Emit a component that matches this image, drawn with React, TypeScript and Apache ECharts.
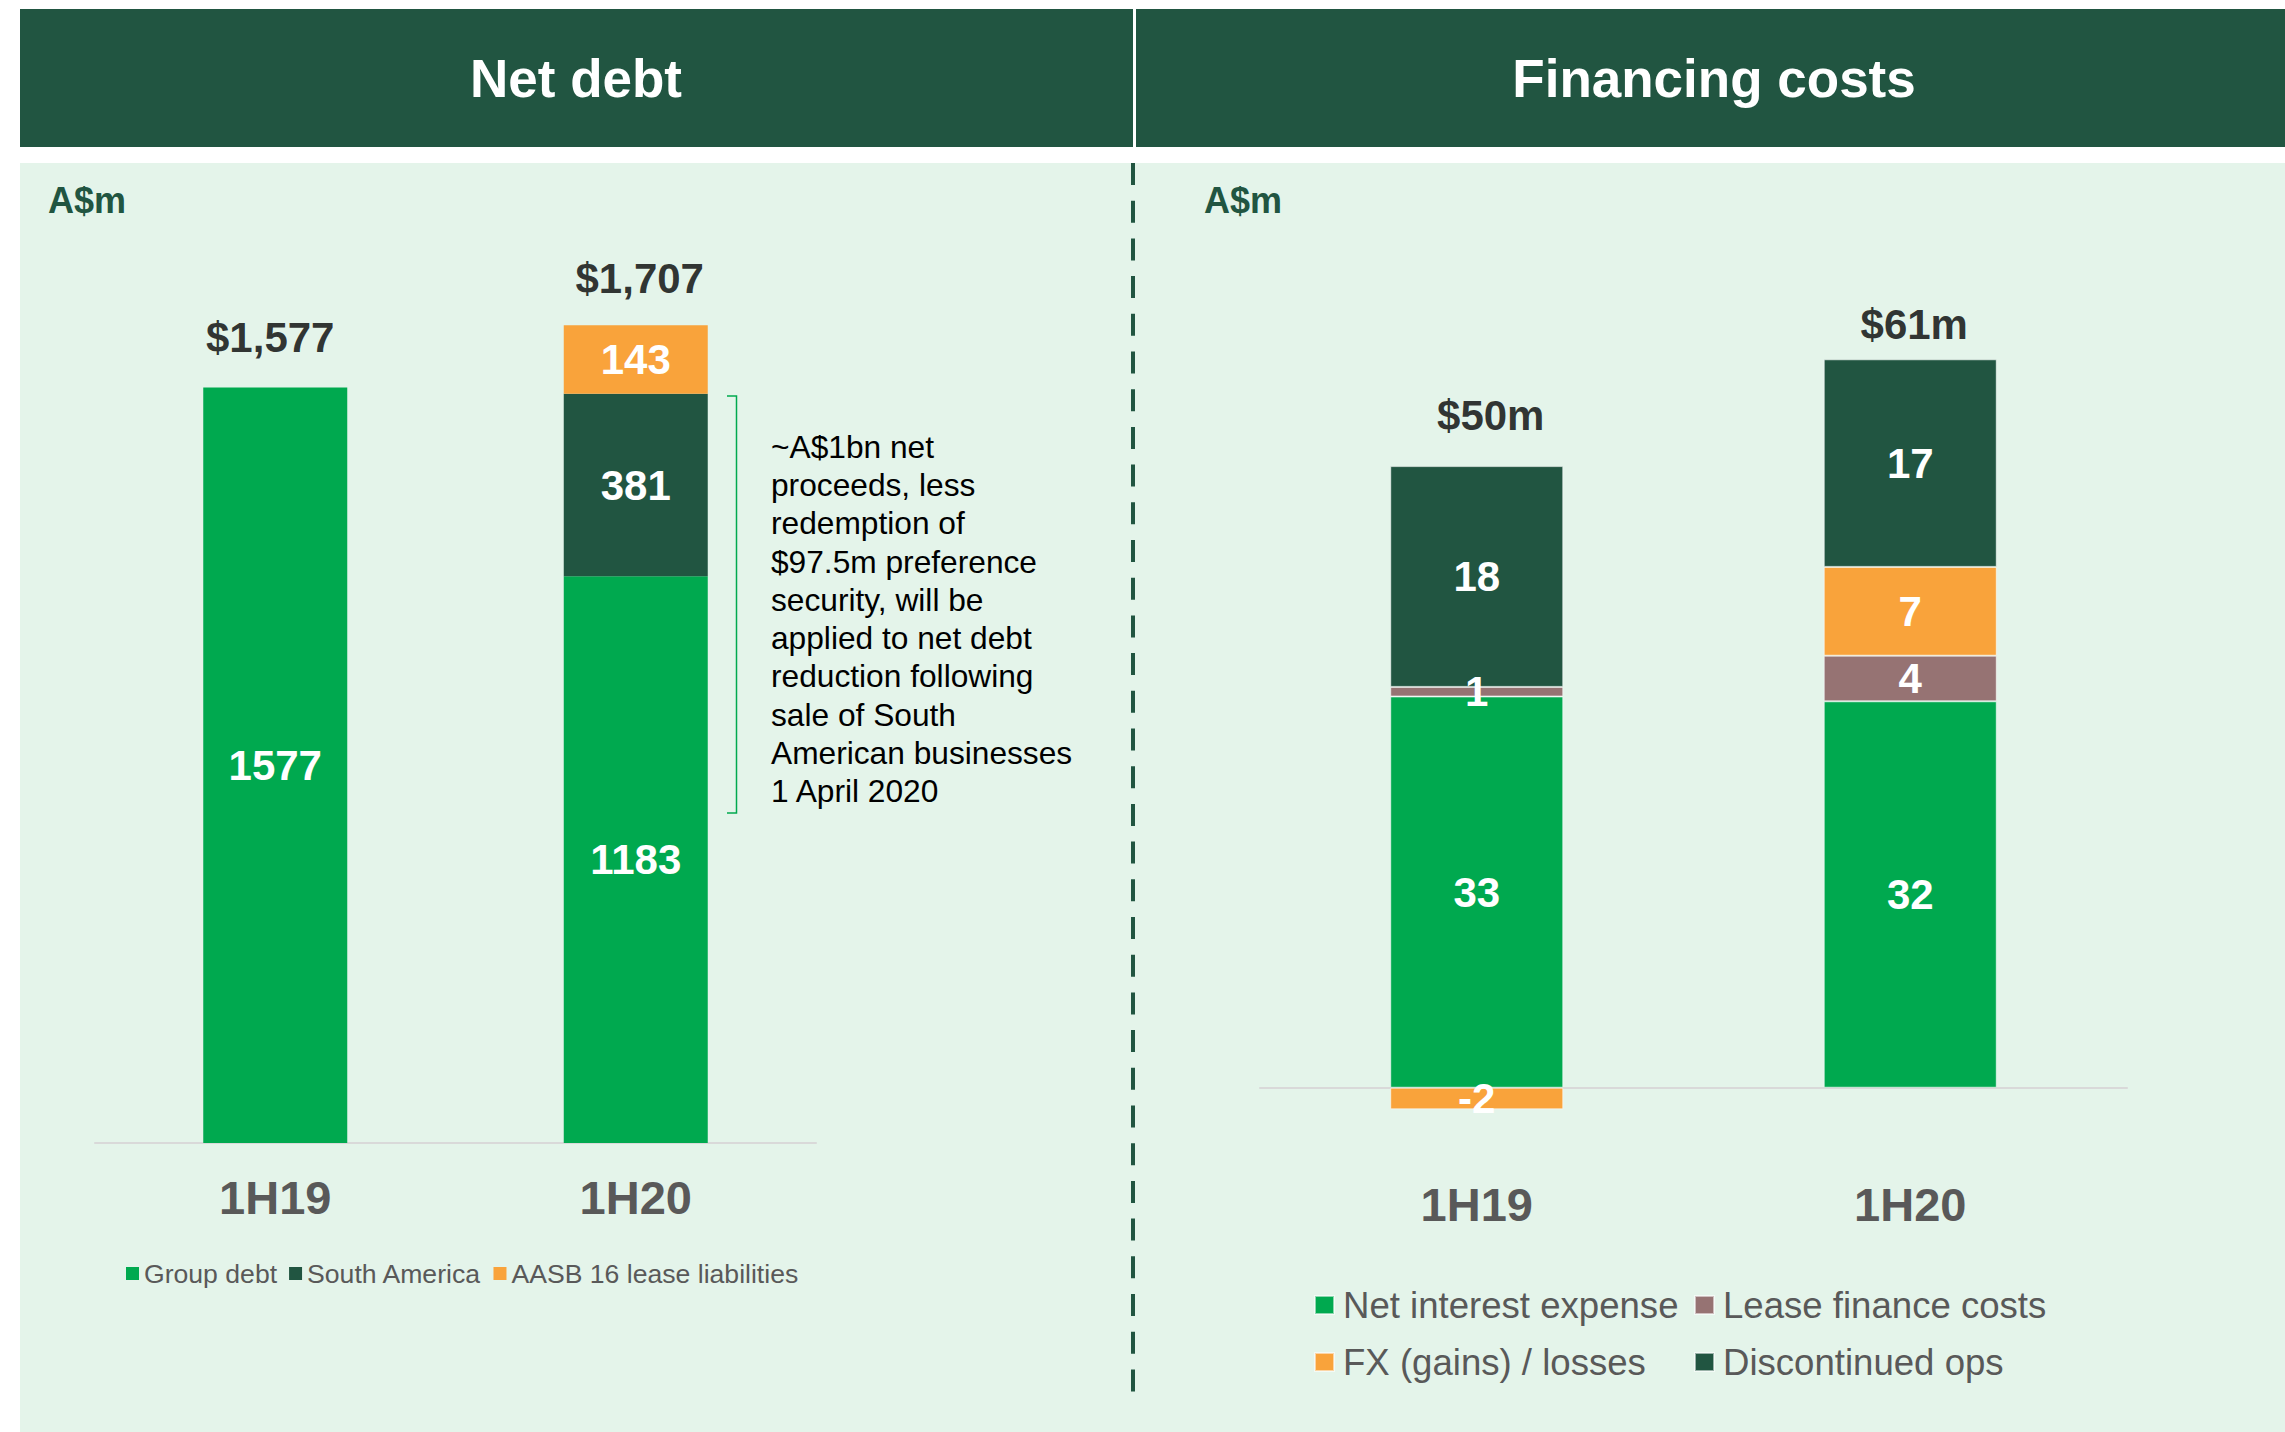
import React, { useEffect, useRef } from "react";
import * as echarts from "echarts";

// ---------- data ----------
const categories = ["1H19", "1H20"];

// Net debt (A$m)
const groupDebt = [1577, 1183];
const southAmerica: (number | null)[] = [null, 381];
const aasb16Lease: (number | null)[] = [null, 143];

// Financing costs (A$m)
const netInterest = [32.6, 32.2];
const leaseFinance = [0.8, 3.8];
const fxGainsLosses = [-1.8, 7.4];
const discontinuedOps = [18.4, 17.3];

const netDebtNames = ["Group debt", "South America", "AASB 16 lease liabilities"];
const financingNames = [
  "Net interest expense",
  "Lease finance costs",
  "FX (gains) / losses",
  "Discontinued ops",
];

const annotationLines = [
  "~A$1bn net",
  "proceeds, less",
  "redemption of",
  "$97.5m preference",
  "security, will be",
  "applied to net debt",
  "reduction following",
  "sale of South",
  "American businesses",
  "1 April 2020",
];

// ---------- styles ----------
const FONT = "'Liberation Sans', Arial, sans-serif";
const GREEN = "#00A94F";
const DARK = "#215541";
const ORANGE = "#F9A33B";
const MAUVE = "#967373";
const AXIS = "#D9D9D9";
const GREY = "#595959";
const PANEL = "#E4F4EA";

const fmtThousands = (v: number) =>
  "$" + Math.round(v).toLocaleString("en-US");

export default function App() {
  const ref = useRef<HTMLDivElement>(null);

  useEffect(() => {
    if (!ref.current) return;
    const chart = echarts.init(ref.current, undefined, { renderer: "svg" });

    const nd = [groupDebt, southAmerica, aasb16Lease];
    const netDebtTotals = categories.map((_, i) =>
      nd.reduce((s, arr) => s + ((arr[i] as number) || 0), 0)
    );
    const fc = [netInterest, leaseFinance, fxGainsLosses, discontinuedOps];
    const finTotals = categories.map((_, i) =>
      fc.reduce((s, arr) => s + arr[i], 0)
    );
    const finTops = categories.map((_, i) =>
      fc.reduce((s, arr) => s + (arr[i] > 0 ? arr[i] : 0), 0)
    );

    const segLabel = {
      show: true,
      position: "inside",
      color: "#fff",
      fontSize: 42,
      fontWeight: "bold",
      fontFamily: FONT,
      formatter: (p: any) =>
        p.value == null || p.value === "-" ? "" : String(Math.round(p.value)),
    };

    const ndColors = [GREEN, DARK, ORANGE];
    const fcColors = [GREEN, MAUVE, ORANGE, DARK];

    const ndSeries = nd.map((arr, k) => ({
      type: "bar",
      name: netDebtNames[k],
      xAxisIndex: 0,
      yAxisIndex: 0,
      stack: "nd",
      barWidth: 144,
      data: arr,
      itemStyle: { color: ndColors[k] },
      label: segLabel,
    }));

    const fcSeries = fc.map((arr, k) => ({
      type: "bar",
      name: financingNames[k],
      xAxisIndex: 1,
      yAxisIndex: 1,
      stack: "fc",
      barWidth: 173,
      data: arr,
      itemStyle: {
        color: fcColors[k],
        borderColor: "rgba(255,255,255,0.55)",
        borderWidth: 1,
      },
      label: segLabel,
    }));

    const totalLabelBase = {
      show: true,
      position: "top",
      color: "#000",
      fontSize: 42,
      fontWeight: "bold",
      fontFamily: FONT,
    };

    const ndTotalOffsets = [
      { distance: 29, offset: [-5, 0] },
      { distance: 25, offset: [4, 0] },
    ];
    const fcTotalOffsets = [
      { distance: 29, offset: [14, 0] },
      { distance: 13, offset: [4, 0] },
    ];

    const ndTotalSeries = {
      type: "scatter",
      xAxisIndex: 0,
      yAxisIndex: 0,
      symbol: "circle",
      symbolSize: 1,
      itemStyle: { color: "rgba(0,0,0,0)" },
      silent: true,
      data: netDebtTotals.map((v, i) => ({
        value: v,
        label: {
          ...totalLabelBase,
          ...ndTotalOffsets[i],
          formatter: fmtThousands(v),
        },
      })),
    };

    const fcTotalSeries = {
      type: "scatter",
      xAxisIndex: 1,
      yAxisIndex: 1,
      symbol: "circle",
      symbolSize: 1,
      itemStyle: { color: "rgba(0,0,0,0)" },
      silent: true,
      data: finTops.map((v, i) => ({
        value: v,
        label: {
          ...totalLabelBase,
          ...fcTotalOffsets[i],
          formatter: "$" + Math.round(finTotals[i]) + "m",
        },
      })),
    };

    const catAxis = (gridIndex: number, margin: number) => ({
      type: "category",
      gridIndex,
      data: categories,
      axisLine: { show: true, onZero: true, lineStyle: { color: AXIS, width: 2 } },
      axisTick: { show: false },
      axisLabel: {
        margin,
        fontSize: 47,
        fontWeight: "bold",
        color: GREY,
        fontFamily: FONT,
      },
    });

    const legendBase = {
      icon: "rect",
      padding: 0,
      selectedMode: false,
    };

    const option: any = {
      animation: false,
      backgroundColor: "#ffffff",
      textStyle: { fontFamily: FONT },
      grid: [
        { left: 95, top: 185, width: 721, height: 958 },
        { left: 1260, top: 247.7, width: 867, height: 960 },
      ],
      xAxis: [catAxis(0, 31), catAxis(1, -27)],
      yAxis: [
        { type: "value", gridIndex: 0, min: 0, max: 2000, show: false },
        { type: "value", gridIndex: 1, min: -10, max: 70, show: false },
      ],
      legend: [
        {
          ...legendBase,
          data: netDebtNames,
          orient: "horizontal",
          left: 126,
          top: 1260,
          itemWidth: 13,
          itemHeight: 13,
          itemGap: 12,
          textStyle: { fontSize: 26.6, lineHeight: 26, color: GREY, fontFamily: FONT },
        },
        {
          ...legendBase,
          data: [financingNames[0], financingNames[2]],
          orient: "vertical",
          left: 1314,
          top: 1285,
          itemWidth: 19,
          itemHeight: 18,
          itemGap: 17,
          textStyle: {
            fontSize: 36.6,
            lineHeight: 40,
            color: GREY,
            fontFamily: FONT,
            padding: [0, 0, 0, 4],
          },
        },
        {
          ...legendBase,
          data: [financingNames[1], financingNames[3]],
          orient: "vertical",
          left: 1694,
          top: 1285,
          itemWidth: 19,
          itemHeight: 18,
          itemGap: 17,
          textStyle: {
            fontSize: 36.6,
            lineHeight: 40,
            color: GREY,
            fontFamily: FONT,
            padding: [0, 0, 0, 4],
          },
        },
      ],
      graphic: [
        {
          type: "rect",
          z: -10,
          shape: { x: 20, y: 163, width: 2265, height: 1269 },
          style: { fill: PANEL },
        },
        {
          type: "rect",
          z: -10,
          shape: { x: 20, y: 9, width: 1113, height: 138 },
          style: { fill: DARK },
        },
        {
          type: "rect",
          z: -10,
          shape: { x: 1136, y: 9, width: 1149, height: 138 },
          style: { fill: DARK },
        },
        {
          type: "text",
          x: 576,
          y: 78,
          style: {
            text: "Net debt",
            fill: "#fff",
            fontSize: 53,
            fontWeight: "bold",
            fontFamily: FONT,
            align: "center",
            verticalAlign: "middle",
          },
        },
        {
          type: "text",
          x: 1714,
          y: 78,
          style: {
            text: "Financing costs",
            fill: "#fff",
            fontSize: 53,
            fontWeight: "bold",
            fontFamily: FONT,
            align: "center",
            verticalAlign: "middle",
          },
        },
        {
          type: "text",
          x: 48,
          y: 200,
          style: {
            text: "A$m",
            fill: DARK,
            fontSize: 36,
            fontWeight: "bold",
            fontFamily: FONT,
            align: "left",
            verticalAlign: "middle",
          },
        },
        {
          type: "text",
          x: 1204,
          y: 200,
          style: {
            text: "A$m",
            fill: DARK,
            fontSize: 36,
            fontWeight: "bold",
            fontFamily: FONT,
            align: "left",
            verticalAlign: "middle",
          },
        },
        {
          type: "line",
          shape: { x1: 1133, y1: 163, x2: 1133, y2: 1403 },
          style: { stroke: DARK, lineWidth: 4, lineDash: [22, 15.7] },
        },
        {
          type: "polyline",
          shape: {
            points: [
              [727, 396],
              [736.5, 396],
              [736.5, 813],
              [727, 813],
            ],
          },
          style: { stroke: GREEN, lineWidth: 1.5, fill: null },
        },
        {
          type: "text",
          x: 771,
          y: 427.5,
          style: {
            text: annotationLines.join("\n"),
            fill: "#000",
            fontSize: 31.7,
            lineHeight: 38.3,
            fontFamily: FONT,
            align: "left",
            verticalAlign: "top",
          },
        },
      ],
      series: [...ndSeries, ...fcSeries, ndTotalSeries, fcTotalSeries],
    };

    chart.setOption(option);
    return () => chart.dispose();
  }, []);

  return (
    <div
      ref={ref}
      style={{
        position: "fixed",
        left: 0,
        top: 0,
        width: 2285,
        height: 1432,
        background: "#fff",
      }}
    />
  );
}
